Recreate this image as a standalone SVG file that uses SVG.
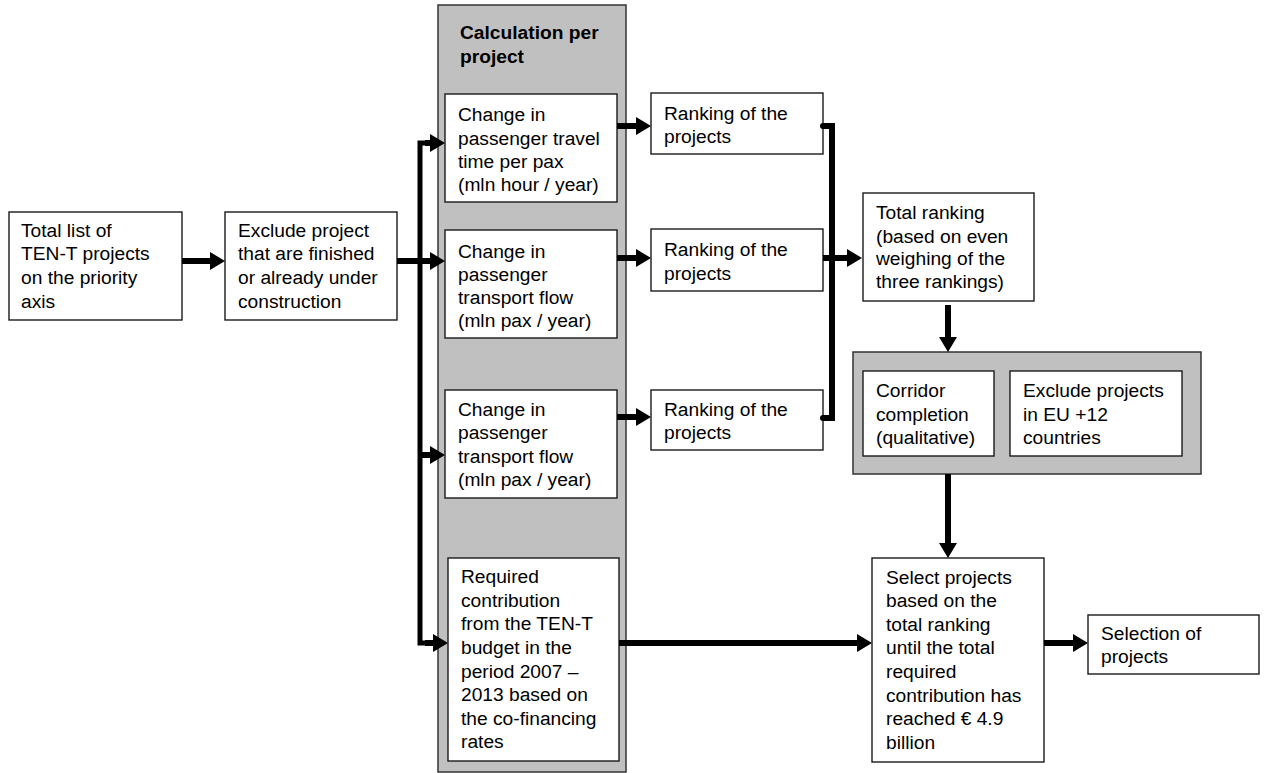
<svg xmlns="http://www.w3.org/2000/svg" width="1265" height="773" viewBox="0 0 1265 773">
<defs>
<style>
.box{fill:#ffffff;stroke:#1a1a1a;stroke-width:1.4}
.grp{fill:#c0c0c0;stroke:#333333;stroke-width:1.5}
text{font-family:"Liberation Sans",Arial,Helvetica,sans-serif;font-size:19.2px;fill:#000}
.b{font-weight:bold}
.c{fill:none;stroke:#000;stroke-width:6}
.t{fill:none;stroke:#000;stroke-width:5}
</style>
<marker id="ah" markerUnits="userSpaceOnUse" markerWidth="15" markerHeight="18" refX="0" refY="9" orient="auto">
<path d="M0,0 L15,9 L0,18 z" fill="#000"/>
</marker>
</defs>
<rect width="1265" height="773" fill="#fff"/>

<g id="calc-group">
<rect class="grp" x="438" y="5" width="188" height="767"/>
<text class="b" x="460" y="39">Calculation per</text>
<text class="b" x="460" y="63">project</text>
</g>

<g id="filter-group">
<rect class="grp" x="853" y="352" width="348" height="122"/>
</g>

<g id="total-list">
<rect class="box" x="9" y="212" width="173" height="108"/>
<text x="21" y="237">Total list of</text>
<text x="21" y="260">TEN-T projects</text>
<text x="21" y="284">on the priority</text>
<text x="21" y="308">axis</text>
</g>

<g id="exclude-finished">
<rect class="box" x="225" y="212" width="172" height="108"/>
<text x="238" y="237">Exclude project</text>
<text x="238" y="260">that are finished</text>
<text x="238" y="284">or already under</text>
<text x="238" y="308">construction</text>
</g>

<g id="calc-travel-time">
<rect class="box" x="445" y="94" width="172" height="108"/>
<text x="458" y="121">Change in</text>
<text x="458" y="145">passenger travel</text>
<text x="458" y="168">time per pax</text>
<text x="458" y="191">(mln hour / year)</text>
</g>

<g id="calc-flow-1">
<rect class="box" x="445" y="230" width="172" height="108"/>
<text x="458" y="258">Change in</text>
<text x="458" y="281">passenger</text>
<text x="458" y="304">transport flow</text>
<text x="458" y="327">(mln pax / year)</text>
</g>

<g id="calc-flow-2">
<rect class="box" x="445" y="390" width="172" height="108"/>
<text x="458" y="416">Change in</text>
<text x="458" y="439">passenger</text>
<text x="458" y="463">transport flow</text>
<text x="458" y="486">(mln pax / year)</text>
</g>

<g id="calc-contribution">
<rect class="box" x="448" y="558" width="171" height="203"/>
<text x="461" y="583">Required</text>
<text x="461" y="607">contribution</text>
<text x="461" y="630">from the TEN-T</text>
<text x="461" y="654">budget in the</text>
<text x="461" y="678">period 2007 –</text>
<text x="461" y="701">2013 based on</text>
<text x="461" y="725">the co-financing</text>
<text x="461" y="748">rates</text>
</g>

<g id="ranking-1">
<rect class="box" x="651" y="93" width="172" height="61"/>
<text x="664" y="120">Ranking of the</text>
<text x="664" y="143">projects</text>
</g>

<g id="ranking-2">
<rect class="box" x="651" y="229" width="172" height="62"/>
<text x="664" y="256">Ranking of the</text>
<text x="664" y="280">projects</text>
</g>

<g id="ranking-3">
<rect class="box" x="651" y="390" width="172" height="60"/>
<text x="664" y="416">Ranking of the</text>
<text x="664" y="439">projects</text>
</g>

<g id="total-ranking">
<rect class="box" x="863" y="193" width="171" height="108"/>
<text x="876" y="219">Total ranking</text>
<text x="876" y="243">(based on even</text>
<text x="876" y="265">weighing of the</text>
<text x="876" y="288">three rankings)</text>
</g>

<g id="corridor">
<rect class="box" x="863" y="371" width="131" height="85"/>
<text x="876" y="397">Corridor</text>
<text x="876" y="421">completion</text>
<text x="876" y="444">(qualitative)</text>
</g>

<g id="exclude-eu12">
<rect class="box" x="1010" y="371" width="172" height="85"/>
<text x="1023" y="397">Exclude projects</text>
<text x="1023" y="421">in EU +12</text>
<text x="1023" y="444">countries</text>
</g>

<g id="select-projects">
<rect class="box" x="872" y="558" width="172" height="204"/>
<text x="886" y="584">Select projects</text>
<text x="886" y="607">based on the</text>
<text x="886" y="631">total ranking</text>
<text x="886" y="654">until the total</text>
<text x="886" y="678">required</text>
<text x="886" y="702">contribution has</text>
<text x="886" y="725">reached € 4.9</text>
<text x="886" y="749">billion</text>
</g>

<g id="selection">
<rect class="box" x="1088" y="615" width="171" height="59"/>
<text x="1101" y="640">Selection of</text>
<text x="1101" y="663">projects</text>
</g>

<g id="connectors">
<path class="c" d="M182,261 H210" marker-end="url(#ah)"/>
<path class="c" d="M397,261 H430" marker-end="url(#ah)"/>
<path class="t" d="M430,143 H420 V643 H433" stroke-linejoin="miter"/>
<path class="c" d="M425,143 H430" marker-end="url(#ah)"/>
<path class="c" d="M420,455 H430" marker-end="url(#ah)"/>
<path class="c" d="M425,643 H433" marker-end="url(#ah)"/>
<path class="c" d="M617,126 H636" marker-end="url(#ah)"/>
<path class="c" d="M617,258 H636" marker-end="url(#ah)"/>
<path class="c" d="M617,417 H636" marker-end="url(#ah)"/>
<path class="c" d="M823,126 H832 V418 H823" stroke-linecap="round" stroke-linejoin="miter"/>
<path class="c" d="M823,258 H847" marker-end="url(#ah)"/>
<path class="c" d="M948,305 V337" marker-end="url(#ah)"/>
<path class="c" d="M948,474 V543" marker-end="url(#ah)"/>
<path class="c" d="M619,643 H857" marker-end="url(#ah)"/>
<path class="c" d="M1044,643 H1073" marker-end="url(#ah)"/>
</g>
</svg>
